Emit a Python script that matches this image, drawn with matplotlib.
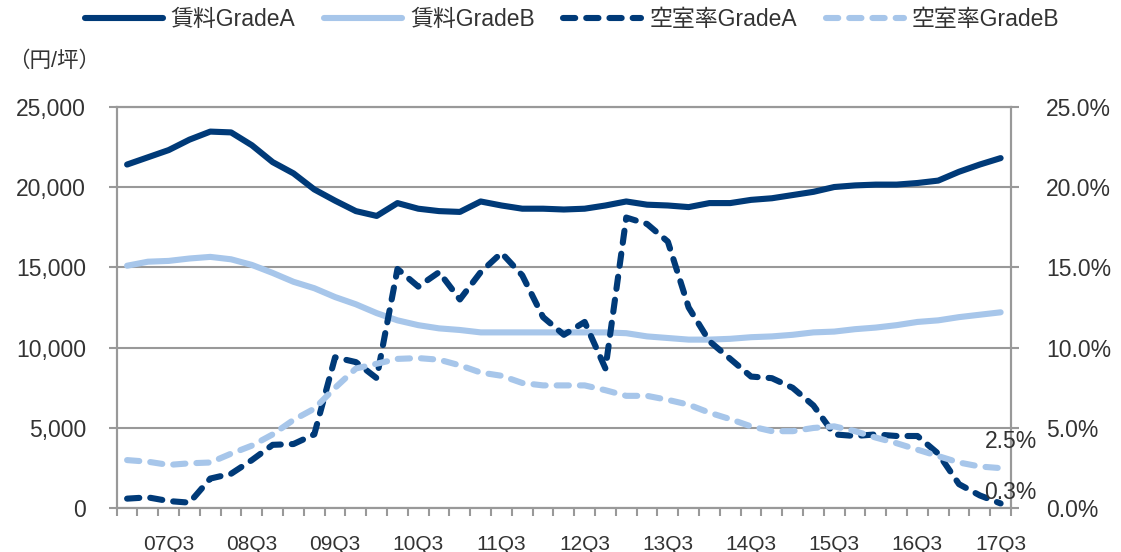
import matplotlib
matplotlib.use('Agg')
import matplotlib.pyplot as plt
from matplotlib.ticker import FuncFormatter, FixedLocator

plt.rcParams['font.family'] = ['Liberation Sans', 'Noto Sans CJK JP']

# quarters 07Q1 .. 17Q3
quarters = ['%02dQ%d' % (y, q) for y in range(7, 18) for q in range(1, 5)][:43]
label_quarters = ['07Q3', '08Q3', '09Q3', '10Q3', '11Q3', '12Q3',
                  '13Q3', '14Q3', '15Q3', '16Q3', '17Q3']

# rent (yen / tsubo)
rent_a = [21400, 21850, 22300, 22950, 23450, 23400, 22600, 21550, 20850, 19850,
          19150, 18500, 18200, 19000, 18650, 18500, 18450, 19100, 18850, 18650,
          18650, 18600, 18650, 18850, 19100, 18900, 18850, 18750, 19000, 19000,
          19200, 19300, 19500, 19700, 20000, 20100, 20150, 20150, 20250, 20400,
          20950, 21400, 21800]
rent_b = [15100, 15350, 15400, 15550, 15650, 15500, 15150, 14650, 14100, 13700,
          13150, 12700, 12150, 11700, 11400, 11200, 11100, 10950, 10950, 10950,
          10950, 10950, 10950, 10950, 10900, 10700, 10600, 10500, 10500, 10550,
          10650, 10700, 10800, 10950, 11000, 11150, 11250, 11400, 11600, 11700,
          11900, 12050, 12200]

# vacancy rate (%)
vac_a = [0.6, 0.68, 0.45, 0.35, 1.85, 2.15, 3.0, 3.95, 4.0, 4.6,
         9.4, 9.1, 8.1, 14.9, 13.8, 14.7, 13.0, 14.7, 15.9, 14.5,
         11.9, 10.8, 11.6, 8.7, 18.1, 17.7, 16.6, 12.5, 10.4, 9.3,
         8.2, 8.1, 7.5, 6.4, 4.6, 4.5, 4.6, 4.5, 4.5, 3.4,
         1.5, 0.8, 0.3]
vac_b = [3.0, 2.9, 2.7, 2.8, 2.85, 3.4, 3.9, 4.6, 5.5, 6.2,
         7.5, 8.7, 9.0, 9.3, 9.35, 9.25, 8.9, 8.45, 8.25, 7.8,
         7.65, 7.65, 7.65, 7.35, 7.0, 7.0, 6.75, 6.45, 5.95, 5.55,
         5.1, 4.8, 4.8, 5.0, 5.1, 4.8, 4.4, 4.05, 3.65, 3.25,
         2.85, 2.6, 2.5]

navy = '#003A78'
light = '#A7C6EA'
grey = '#999999'
txt = '#333333'
lw = 4.4
dash = (2.0, 1.8)

fig = plt.figure(figsize=(11.21, 5.52), dpi=100)
ax = fig.add_axes([0.1041, 0.0792, 0.7978, 0.7275])
ax2 = ax.twinx()

x = list(range(len(quarters)))

l1, = ax.plot(x, rent_a, color=navy, lw=lw, solid_capstyle='round', solid_joinstyle='round', label='賃料GradeA')
l2, = ax.plot(x, rent_b, color=light, lw=lw, solid_capstyle='round', solid_joinstyle='round', label='賃料GradeB')
l3, = ax2.plot(x, vac_a, color=navy, lw=lw, dashes=dash, dash_capstyle='round', dash_joinstyle='round', label='空室率GradeA')
l4, = ax2.plot(x, vac_b, color=light, lw=lw, dashes=dash, dash_capstyle='round', dash_joinstyle='round', label='空室率GradeB')

ax.set_xlim(-0.5, len(quarters) - 0.5)
ax.set_ylim(0, 25000)
ax2.set_ylim(0, 25)
ax.set_yticks(range(0, 25001, 5000))
ax2.set_yticks(range(0, 26, 5))
ax.yaxis.set_major_formatter(FuncFormatter(lambda v, p: '{:,.0f}'.format(v)))
ax2.yaxis.set_major_formatter(FuncFormatter(lambda v, p: '%.1f%%' % v))

# boundary ticks, labels on category centres
ax.xaxis.set_major_locator(FixedLocator([i - 0.5 for i in range(len(quarters) + 1)]))
ax.set_xticklabels([])
ax.xaxis.set_minor_locator(FixedLocator([quarters.index(q) for q in label_quarters]))
ax.set_xticklabels(label_quarters, minor=True)
ax.tick_params(axis='x', which='major', length=6, width=1.5, color=grey, direction='out')
ax.tick_params(axis='x', which='minor', length=0, pad=19, labelsize=15, labelcolor=txt)
ax.tick_params(axis='y', length=6, width=1.5, color=grey, pad=16, labelsize=16.5, labelcolor=txt)
ax2.tick_params(axis='y', length=6, width=1.5, color=grey, pad=19, labelsize=16.5, labelcolor=txt)

ax.grid(axis='y', color=grey, lw=1.5)
ax.set_axisbelow(True)
for a in (ax, ax2):
    for s in a.spines.values():
        s.set_color(grey)
        s.set_linewidth(1.5)

# end-point labels
ax2.annotate('%.1f%%' % vac_b[-1], (x[-1], vac_b[-1]), xytext=(10, 27), textcoords='offset pixels',
             ha='center', va='center', fontsize=16.5, color=txt)
ax2.annotate('%.1f%%' % vac_a[-1], (x[-1], vac_a[-1]), xytext=(10, 11), textcoords='offset pixels',
             ha='center', va='center', fontsize=16.5, color=txt)

fig.text(8 / 1121, 1 - 61 / 552, '（円/坪）', fontsize=15.5, color=txt, ha='left', va='center')

fig.legend(handles=[l1, l2, l3, l4], loc='center', ncol=4, bbox_to_anchor=(572 / 1121, 1 - 20 / 552),
           frameon=False, fontsize=16.5, handlelength=3.4, handletextpad=0.35, columnspacing=1.25,
           labelcolor=txt)

fig.savefig('out.png', dpi=100)
